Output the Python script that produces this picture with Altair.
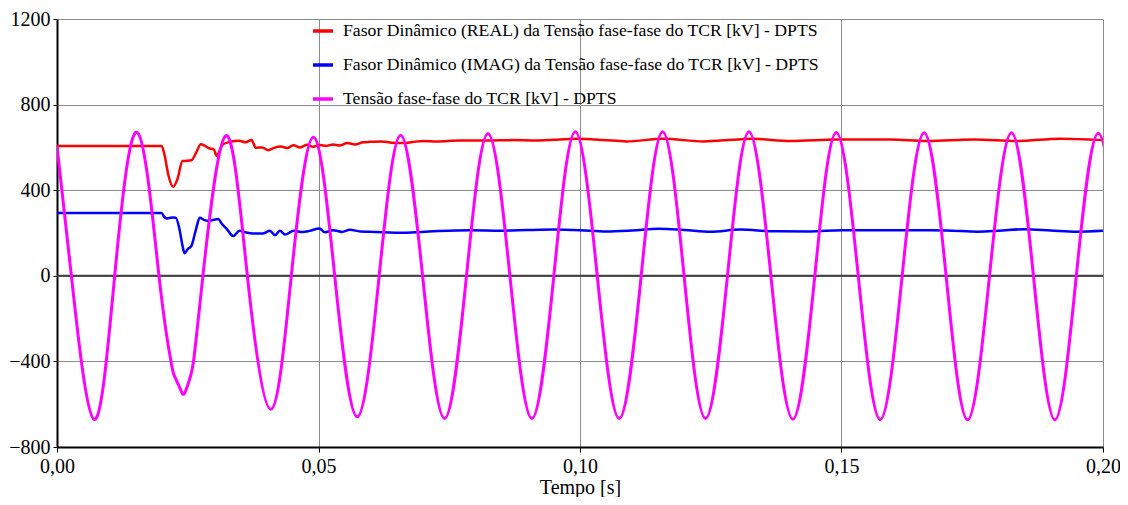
import altair as alt
import pandas as pd

S_RE = "Fasor Dinâmico (REAL) da Tensão fase-fase do TCR [kV] - DPTS"
S_IM = "Fasor Dinâmico (IMAG) da Tensão fase-fase do TCR [kV] - DPTS"
S_MG = "Tensão fase-fase do TCR [kV] - DPTS"

FONT = "Liberation Serif"

# Tensão fase-fase (instantaneous) - peaks, troughs, zero crossings
mag_t = [0.0000, 0.00275, 0.00707, 0.01103, 0.01537, 0.0195, 0.0218, 0.0224, 0.0235, 0.0243,
         0.0252, 0.0261, 0.0279, 0.03226, 0.0364, 0.0409, 0.0448, 0.0490, 0.0531, 0.0574,
         0.0616, 0.0657, 0.0699, 0.0741, 0.0783, 0.0824, 0.0866, 0.0908, 0.0950, 0.0991,
         0.1033, 0.1075, 0.1117, 0.1158, 0.1199, 0.1240, 0.1282, 0.1323, 0.1365, 0.1407,
         0.1449, 0.1490, 0.1532, 0.1574, 0.1616, 0.1658, 0.1700, 0.1741, 0.1783, 0.1825,
         0.1867, 0.1908, 0.1949, 0.1991, 0.2033]
mag_v = [606, 0, -671, 0, 670, 0, -400, -465, -525, -552,
         -495, -400, 0, 654, 0, -624, 0, 647, 0, -659,
         0, 657, 0, -667, 0, 665, 0, -667, 0, 673,
         0, -667, 0, 673, 0, -667, 0, 673, 0, -670,
         0, 670, 0, -672, 0, 668, 0, -673, 0, 668,
         0, -673, 0, 666, 0]

# Fasor dinâmico REAL
re_t = [0.0, 0.0200, 0.0206, 0.0213, 0.0222, 0.0230, 0.0240, 0.0257, 0.0266, 0.0275,
        0.0292, 0.0300, 0.0305, 0.0317, 0.0330, 0.0349, 0.0360, 0.0372, 0.0380, 0.0392,
        0.0404, 0.0415, 0.0428, 0.0440, 0.0452, 0.0465, 0.0478, 0.0490, 0.0502, 0.0515,
        0.0528, 0.0540, 0.0555, 0.0570, 0.0585, 0.0600, 0.0620, 0.0640, 0.0662, 0.0680,
        0.0700, 0.0726, 0.0770, 0.0822, 0.0870, 0.0917, 0.0950, 0.0993, 0.1044, 0.1089,
        0.1159, 0.1236, 0.1300, 0.1330, 0.1402, 0.1491, 0.1593, 0.1664, 0.1753, 0.1836,
        0.1918, 0.2000]
re_v = [606, 606, 560, 470, 416, 450, 536, 540, 575, 615,
        595, 590, 561, 614, 625, 631, 624, 635, 598, 600,
        587, 598, 604, 597, 610, 600, 612, 603, 611, 607,
        614, 609, 620, 614, 624, 626, 628, 622, 620, 625,
        630, 628, 632, 632, 634, 632, 636, 640, 635, 628,
        640, 628, 637, 640, 630, 637, 637, 630, 637, 630,
        641, 634]

# Fasor dinâmico IMAG
im_t = [0.0, 0.0200, 0.0205, 0.0210, 0.0220, 0.0227, 0.0234, 0.0240, 0.0244, 0.0250,
        0.0257, 0.0265, 0.0273, 0.0282, 0.0289, 0.0300, 0.0308, 0.0316, 0.0324, 0.0337,
        0.0349, 0.0362, 0.0375, 0.0394, 0.0407, 0.0417, 0.0426, 0.0436, 0.0452, 0.0470,
        0.0483, 0.0502, 0.0512, 0.0528, 0.0545, 0.0560, 0.0580, 0.0598, 0.0662, 0.0720,
        0.0790, 0.0850, 0.0900, 0.0950, 0.1000, 0.1050, 0.1100, 0.1150, 0.1200, 0.1250,
        0.1306, 0.1370, 0.1440, 0.1500, 0.1600, 0.1700, 0.1760, 0.1800, 0.1850, 0.1900,
        0.1950, 0.2000]
im_v = [294, 294, 275, 268, 272, 271, 220, 140, 105, 125,
        140, 210, 271, 260, 257, 262, 265, 240, 221, 186,
        210, 202, 198, 198, 210, 190, 210, 193, 210, 205,
        210, 221, 203, 213, 205, 215, 207, 206, 201, 208,
        213, 211, 214, 216, 213, 207, 212, 220, 214, 206,
        216, 208, 207, 213, 213, 212, 206, 210, 218, 212,
        206, 210]

df_ph = pd.DataFrame({
    "t": re_t + im_t,
    "v": re_v + im_v,
    "s": [S_RE] * len(re_t) + [S_IM] * len(im_t),
})
df_mg = pd.DataFrame({"t": mag_t, "v": mag_v, "s": [S_MG] * len(mag_t)})
df_zero = pd.DataFrame({"v": [0]})

color = alt.Color(
    "s:N",
    scale=alt.Scale(domain=[S_RE, S_IM, S_MG], range=["#ff0000", "#0000ff", "#ff00ff"]),
    legend=alt.Legend(
        orient="none", legendX=254, legendY=0, title=None, padding=0,
        symbolType="stroke", symbolStrokeWidth=3.5, symbolSize=400,
        labelFont=FONT, labelFontSize=17.7, labelColor="black",
        labelLimit=0, labelOffset=8, rowPadding=13,
    ),
)

x = alt.X("t:Q", scale=alt.Scale(domain=[0, 0.2], nice=False),
          axis=alt.Axis(values=[0, 0.05, 0.1, 0.15, 0.2],
                        labelExpr="replace(format(datum.value, '.2f'), '.', ',')",
                        labelFlush=False, labelOverlap=False,
                        title="Tempo [s]", tickSize=5, labelPadding=4, titlePadding=1))
y = alt.Y("v:Q", scale=alt.Scale(domain=[-800, 1200], nice=False),
          axis=alt.Axis(values=[-800, -400, 0, 400, 800, 1200], format="d", title=None,
                        labelFlush=False, labelOverlap=False,
                        tickSize=4, labelPadding=3))

zero = alt.Chart(df_zero).mark_rule(color="#404040", strokeWidth=2).encode(y="v:Q")
ph = alt.Chart(df_ph).mark_line(strokeWidth=2.5, interpolate="monotone").encode(
    x=x, y=y, color=color, order="t:Q")
mg = alt.Chart(df_mg).mark_line(strokeWidth=3, interpolate="natural", clip=True).encode(
    x=x, y=y, color=color, order="t:Q")

chart = alt.layer(zero, ph, mg).properties(
    width=1046, height=428,
    autosize=alt.AutoSizeParams(type="none"),
    padding={"left": 49, "top": 11, "right": 17, "bottom": 50},
).configure_view(stroke=None).configure_axis(
    labelFont=FONT, labelFontSize=20, labelColor="black",
    titleFont=FONT, titleFontSize=20, titleFontWeight="normal", titleColor="black",
    domainColor="black", domainWidth=2, tickColor="black", tickWidth=1,
    gridColor="#8c8c8c", gridWidth=1,
)

chart.save("out.html", embed_options={"renderer": "svg", "actions": False})
